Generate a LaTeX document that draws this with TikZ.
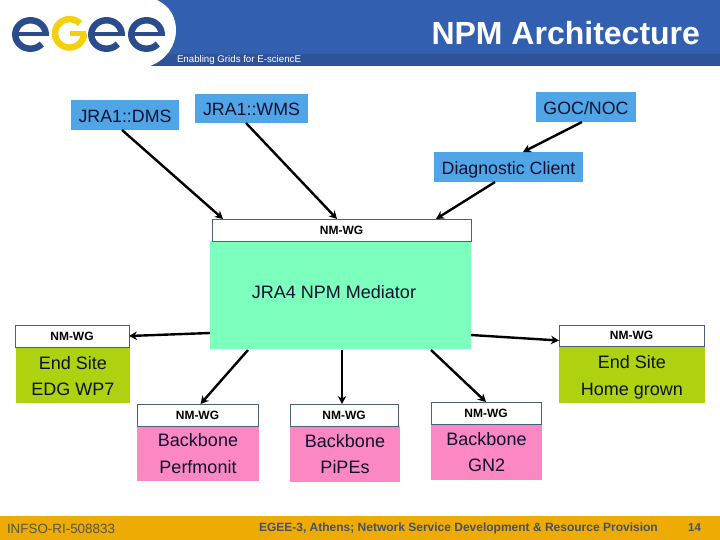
\documentclass[tikz,border=0pt]{standalone}
\usepackage{fontspec}
\setmainfont{Liberation Sans}
\usetikzlibrary{arrows.meta}
\definecolor{hblue}{HTML}{335FB0}
\definecolor{hdark}{HTML}{2F5398}
\definecolor{lblue}{HTML}{4FA5E6}
\definecolor{mint}{HTML}{7DFFBE}
\definecolor{lime}{HTML}{AED210}
\definecolor{pink}{HTML}{FB87C3}
\definecolor{foot}{HTML}{EDAB03}
\definecolor{logob}{HTML}{2B4C8C}
\definecolor{logoy}{HTML}{F5D010}
\definecolor{ink}{HTML}{101030}
\definecolor{nmedge}{HTML}{4A6078}
\definecolor{footink}{HTML}{55554A}
\definecolor{evink}{HTML}{45506A}
\tikzset{
  px/.style={inner sep=0pt,outer sep=0pt,text=ink,align=center},
  bluebox/.style={px,fill=lblue,text height=15pt,text depth=0pt,font=\fontsize{17.8}{20}\selectfont},
  limebox/.style={px,fill=lime,font=\fontsize{18}{26.5}\selectfont},
  pinkbox/.style={px,fill=pink,font=\fontsize{18}{26.5}\selectfont},
  mintbox/.style={px,fill=mint},
  mintlabel/.style={px,font=\fontsize{18}{20}\selectfont},
  nmbox/.style={px,draw=nmedge,line width=0.8pt,fill=white,text=black,font=\bfseries\fontsize{12}{13}\selectfont},
  arrowline/.style={draw=black,line width=2.4pt,-{Stealth[length=8pt,width=8.5pt]}},
}
% name, style, x0, y0, x1, y1 then text
\newcommand{\boxat}[7]{\node[#2,minimum width=#5-#3,minimum height=#6-#4,anchor=north west] (#1) at (#3,-#4) {#7};}
\newcommand{\logoe}[1]{%
  \draw[logob,line width=6.5pt] (#1+15.2,-34.5) arc[start angle=0,end angle=318,x radius=15.2,y radius=14.2];
  \draw[logob,line width=4pt] (#1-14,-34.5) -- (#1+18,-34.5);
}
\begin{document}
\begin{tikzpicture}[x=1pt,y=1pt]
\useasboundingbox (0,0) rectangle (720,-540);
\fill[white] (0,0) rectangle (720,-540);
% header
\fill[hblue] (0,0) rectangle (720,-54);
\fill[hdark] (0,-54) rectangle (720,-66);
\fill[white] (0,0) -- (157,0) .. controls (170,-6) and (176,-18) .. (176,-30) .. controls (176,-46) and (166,-60) .. (150,-66) -- (0,-66) -- cycle;
% logo
\logoe{30.5}
\logoe{106.5}
\logoe{146.5}
\draw[logoy,line width=6.5pt] (68.5+11.5,-34.5+11) arc[start angle=44,end angle=360,x radius=14.5,y radius=14.2];
\draw[logoy,line width=5pt] (70,-33.5) -- (86,-33.5);
\node[px,text=white,anchor=east,font=\bfseries\fontsize{32}{34}\selectfont] (title) at (700,-33) {NPM Architecture};
\node[px,text=white,anchor=west,font=\fontsize{9.7}{11}\selectfont] (tag) at (177,-60) {Enabling Grids for E-sciencE};
% footer
\fill[foot] (0,-516) rectangle (720,-540);
\node[px,text=footink,anchor=west,font=\fontsize{13.4}{15}\selectfont] (infso) at (7,-528.5) {INFSO-RI-508833};
\node[px,text=evink,anchor=west,font=\bfseries\fontsize{12}{13}\selectfont] (event) at (259,-528) {EGEE-3, Athens; Network Service Development \& Resource Provision};
\node[px,text=evink,anchor=east,font=\bfseries\fontsize{11.5}{14}\selectfont] (page) at (701,-528) {14};
% boxes
\boxat{dms}{bluebox}{71}{100}{179}{130}{JRA1::DMS}
\boxat{wms}{bluebox}{195}{94}{308}{123}{JRA1::WMS}
\boxat{goc}{bluebox}{536}{92}{636}{122}{GOC/NOC}
\boxat{diag}{bluebox}{434}{152}{583}{182}{Diagnostic Client}
\boxat{med}{mintbox}{210}{241}{471}{349}{}
\node[mintlabel] (medlabel) at ([xshift=-6.5pt,yshift=3pt]med.center) {JRA4 NPM Mediator};
\boxat{nmtop}{nmbox}{212}{219}{471}{241}{NM-WG}
\boxat{siteL}{limebox}{16}{347}{130}{403}{\rule{0pt}{15pt}End Site\\EDG WP7}
\boxat{nmL}{nmbox}{15}{325}{129}{347}{NM-WG}
\boxat{siteR}{limebox}{559}{346}{705}{403}{\rule{0pt}{19pt}End Site\\Home grown}
\boxat{nmR}{nmbox}{559}{325}{704}{346}{NM-WG}
\boxat{bbA}{pinkbox}{137}{426}{259}{481}{Backbone\\Perfmonit}
\boxat{nmA}{nmbox}{137}{404}{258}{426}{NM-WG}
\boxat{bbB}{pinkbox}{290}{426}{400}{482}{Backbone\\PiPEs}
\boxat{nmB}{nmbox}{290}{404}{398}{426}{NM-WG}
\boxat{bbC}{pinkbox}{431}{424}{542}{480}{Backbone\\GN2}
\boxat{nmC}{nmbox}{431}{402}{541}{424}{NM-WG}
% connectors
\draw[arrowline] ([xshift=51pt]dms.south west) -- ([xshift=11pt]nmtop.north west);
\draw[arrowline] ([xshift=51pt]wms.south west) -- ([xshift=125pt]nmtop.north west);
\draw[arrowline] ([xshift=46pt]goc.south west) -- ([xshift=89pt]diag.north west);
\draw[arrowline] ([xshift=61pt]diag.south west) -- ([xshift=224pt]nmtop.north west);
\draw[arrowline] ([yshift=16pt]med.south west) -- (nmL.east);
\draw[arrowline] ([yshift=14pt]med.south east) -- ([yshift=-5pt]nmR.west);
\draw[arrowline] ([xshift=38pt,yshift=-1pt]med.south west) -- ([xshift=3pt]nmA.north);
\draw[arrowline] ([xshift=132pt,yshift=-1pt]med.south west) -- ([xshift=-2pt]nmB.north);
\draw[arrowline] ([xshift=-40pt,yshift=-1pt]med.south east) -- (nmC.north);
\end{tikzpicture}
\end{document}
